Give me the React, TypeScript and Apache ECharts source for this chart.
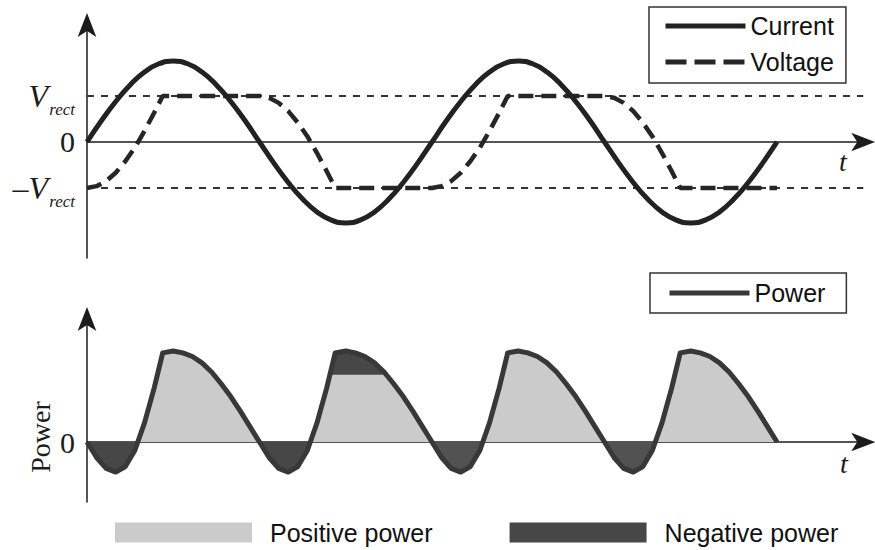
import React, { useEffect, useRef } from 'react';
import * as echarts from 'echarts';

// phase (degrees) vs. value, Vrect = 1
const currentData: [number, number][] = [
  [0, 0], [15, 0.46], [30, 0.88], [45, 1.24], [60, 1.52], [75, 1.7], [90, 1.76], [105, 1.7], [120, 1.52], [135, 1.24], [150, 0.88], [165, 0.46],
  [180, 0], [195, -0.46], [210, -0.88], [225, -1.24], [240, -1.52], [255, -1.7], [270, -1.76], [285, -1.7], [300, -1.52], [315, -1.24], [330, -0.88], [345, -0.46],
  [360, 0], [375, 0.46], [390, 0.88], [405, 1.24], [420, 1.52], [435, 1.7], [450, 1.76], [465, 1.7], [480, 1.52], [495, 1.24], [510, 0.88], [525, 0.46],
  [540, 0], [555, -0.46], [570, -0.88], [585, -1.24], [600, -1.52], [615, -1.7], [630, -1.76], [645, -1.7], [660, -1.52], [675, -1.24], [690, -0.88], [705, -0.46],
  [720, 0],
];

const voltageData: [number, number][] = [
  [0, -1], [10, -0.96], [20, -0.85], [30, -0.67], [40, -0.42], [50, -0.12], [60, 0.24], [70, 0.63], [79, 1], [180, 1],
  [190, 0.96], [200, 0.85], [210, 0.67], [220, 0.42], [230, 0.12], [240, -0.24], [250, -0.63], [259, -1], [360, -1],
  [370, -0.96], [380, -0.85], [390, -0.67], [400, -0.42], [410, -0.12], [420, 0.24], [430, 0.63], [439, 1], [540, 1],
  [550, 0.96], [560, 0.85], [570, 0.67], [580, 0.42], [590, 0.12], [600, -0.24], [610, -0.63], [619, -1], [720, -1],
];

const vrectLevels = [1, -1];

// power, peak = 1
const powerData: [number, number][] = [
  [0, 0], [10, -0.17], [20, -0.29], [30, -0.33], [40, -0.27], [50, -0.09], [53, 0], [60, 0.21], [70, 0.59], [79, 0.98],
  [90, 1], [100, 0.98], [110, 0.94], [120, 0.87], [130, 0.77], [140, 0.64], [150, 0.5], [160, 0.34], [170, 0.17], [180, 0],
  [190, -0.17], [200, -0.29], [210, -0.33], [220, -0.27], [230, -0.09], [233, 0], [240, 0.21], [250, 0.59], [259, 0.98],
  [270, 1], [280, 0.98], [290, 0.94], [300, 0.87], [310, 0.77], [320, 0.64], [330, 0.5], [340, 0.34], [350, 0.17], [360, 0],
  [370, -0.17], [380, -0.29], [390, -0.33], [400, -0.27], [410, -0.09], [413, 0], [420, 0.21], [430, 0.59], [439, 0.98],
  [450, 1], [460, 0.98], [470, 0.94], [480, 0.87], [490, 0.77], [500, 0.64], [510, 0.5], [520, 0.34], [530, 0.17], [540, 0],
  [550, -0.17], [560, -0.29], [570, -0.33], [580, -0.27], [590, -0.09], [593, 0], [600, 0.21], [610, 0.59], [619, 0.98],
  [630, 1], [640, 0.98], [650, 0.94], [660, 0.87], [670, 0.77], [680, 0.64], [690, 0.5], [700, 0.34], [710, 0.17], [720, 0],
];

const capLevel = 0.74;
const capData: [number, number][] = [
  [253.5, 0.74], [259, 0.98], [270, 1], [280, 0.98], [290, 0.94], [300, 0.87], [310, 0.77], [312.3, 0.74],
];

const tMax = 810;
const topTickValues = [-1, 0, 1];
const topTickLabels = ['\u2013V', '0', 'V'];
const subscriptLabel = 'rect';
const bottomTickValues = [0];
const bottomTickLabels = ['0'];
const topLegend = ['Current', 'Voltage'];
const powerLegend = ['Power'];
const fillLegend = ['Positive power', 'Negative power'];
const timeLabel = 't';
const powerAxisName = 'Power';

const serif = 'Liberation Serif';
const sans = 'Liberation Sans';
const ink = '#1c1c1c';

const topRange = { min: -2.522, max: 2.543 };
const topPxPerUnit = 46;
const subscriptDropPx = 14;
const subTickValues = vrectLevels.map((v) => v - subscriptDropPx / topPxPerUnit);

function labelFormatter(values: number[], labels: string[]) {
  return (val: number) => {
    const i = values.indexOf(val);
    if (i < 0) return '';
    const t = labels[i];
    return /\d/.test(t) ? `{z|${t}}` : `{v|${t}}`;
  };
}

const rich = {
  v: { fontFamily: serif, fontStyle: 'italic', fontSize: 32, padding: [0, 27, 0, 0], color: ink },
  z: { fontFamily: serif, fontSize: 30, color: ink },
};

const axisLineStyle = { color: ink, width: 1.5 };
const arrowLine = { show: true, symbol: ['none', 'arrow'], symbolSize: [14, 24], symbolOffset: [0, 12], lineStyle: axisLineStyle };

export default function App() {
  const ref = useRef<HTMLDivElement>(null);
  useEffect(() => {
    if (!ref.current) return;
    const chart = echarts.init(ref.current, undefined, { renderer: 'svg' });
    const lineBase = { type: 'line', symbol: 'none', showSymbol: false, silent: true };
    const option: any = {
      animation: false,
      backgroundColor: '#ffffff',
      grid: [
        { left: 87, top: 25, width: 776.25, height: 233 },
        { left: 87, top: 319, width: 776.25, height: 183 },
      ],
      xAxis: [0, 1].map((i) => ({
        type: 'value', gridIndex: i, min: 0, max: tMax,
        axisLine: { ...arrowLine, onZero: true },
        axisTick: { show: false }, axisLabel: { show: false }, splitLine: { show: false },
      })),
      yAxis: [
        {
          type: 'value', gridIndex: 0, ...topRange,
          axisLine: arrowLine,
          axisTick: { show: false }, splitLine: { show: false },
          axisLabel: { customValues: topTickValues, formatter: labelFormatter(topTickValues, topTickLabels), rich, margin: 12 },
        },
        {
          type: 'value', gridIndex: 1, min: -0.659, max: 1.352,
          axisLine: arrowLine,
          axisTick: { show: false }, splitLine: { show: false },
          axisLabel: { customValues: bottomTickValues, formatter: labelFormatter(bottomTickValues, bottomTickLabels), rich, margin: 12 },
        },
        {
          type: 'value', gridIndex: 0, ...topRange, position: 'left',
          axisLine: { show: false, onZero: false }, axisTick: { show: false }, splitLine: { show: false },
          axisLabel: {
            customValues: subTickValues,
            formatter: (val: number) => (subTickValues.indexOf(val) >= 0 ? subscriptLabel : ''),
            fontFamily: serif, fontStyle: 'italic', fontSize: 17, color: ink, margin: 12,
          },
        },
      ],
      legend: [
        {
          data: [
            { name: topLegend[0] },
            { name: topLegend[1], lineStyle: { type: [21, 8] } },
          ],
          orient: 'vertical', left: 649, top: 7, itemWidth: 80, itemHeight: 25, itemGap: 11,
          padding: [6.5, 12, 8.5, 14], borderColor: '#333', borderWidth: 1.5, selectedMode: false,
          textStyle: { fontFamily: sans, fontSize: 25, color: '#111' },
          itemStyle: { opacity: 0 }, lineStyle: { width: 5 },
        },
        {
          data: powerLegend,
          orient: 'vertical', left: 650, top: 273, itemWidth: 80, itemHeight: 25,
          padding: [7.5, 21, 7.5, 17], borderColor: '#333', borderWidth: 1.5, selectedMode: false,
          textStyle: { fontFamily: sans, fontSize: 25, color: '#111' },
          itemStyle: { opacity: 0 }, lineStyle: { width: 5 },
        },
        {
          data: fillLegend, icon: 'rect',
          orient: 'horizontal', left: 115, top: 520, itemWidth: 137, itemHeight: 20, itemGap: 77,
          padding: 0, selectedMode: false,
          textStyle: { fontFamily: sans, fontSize: 25, color: '#111', padding: [0, 0, 0, 13] },
          itemStyle: { borderWidth: 0 },
        },
      ],
      series: [
        ...vrectLevels.map((lv) => ({
          ...lineBase, xAxisIndex: 0, yAxisIndex: 0,
          data: [[0, lv], [tMax, lv]],
          lineStyle: { color: '#333', width: 2, type: [7, 7] },
        })),
        {
          ...lineBase, name: 'Voltage', xAxisIndex: 0, yAxisIndex: 0, data: voltageData, color: '#262626',
          lineStyle: { color: '#262626', width: 4.5, type: [15, 8] },
        },
        {
          ...lineBase, name: 'Current', xAxisIndex: 0, yAxisIndex: 0, data: currentData, smooth: true, color: '#222',
          lineStyle: { color: '#222', width: 5 },
        },
        {
          ...lineBase, name: 'Positive power', xAxisIndex: 1, yAxisIndex: 1, color: '#cbcbcb',
          data: powerData.map(([x, y]) => [x, Math.max(y, 0)]),
          lineStyle: { width: 0 }, areaStyle: { color: '#cbcbcb', opacity: 1 },
        },
        {
          ...lineBase, name: 'Negative power', xAxisIndex: 1, yAxisIndex: 1, color: '#474747',
          data: powerData.filter(([x]) => x <= 360).map(([x, y]) => [x, Math.min(y, 0)]),
          lineStyle: { width: 0 }, areaStyle: { color: '#474747', opacity: 1 },
        },
        {
          ...lineBase, name: 'Negative power', xAxisIndex: 1, yAxisIndex: 1, color: '#474747',
          data: powerData.filter(([x]) => x >= 360).map(([x, y]) => [x, Math.min(y, 0)]),
          lineStyle: { width: 0 }, areaStyle: { color: '#525252', opacity: 1 },
        },
        {
          ...lineBase, name: 'Negative power', xAxisIndex: 1, yAxisIndex: 1, color: '#474747',
          data: capData,
          lineStyle: { width: 0 }, areaStyle: { color: '#474747', opacity: 1, origin: capLevel },
        },
        {
          ...lineBase, name: 'Power', xAxisIndex: 1, yAxisIndex: 1, data: powerData, color: '#383838',
          lineStyle: { color: '#383838', width: 5, join: 'round' },
        },
      ],
      graphic: [
        { type: 'text', x: 843, y: 161, style: { text: timeLabel, fontFamily: serif, fontStyle: 'italic', fontSize: 28, fill: ink, align: 'center', verticalAlign: 'middle' } },
        { type: 'text', x: 844, y: 463, style: { text: timeLabel, fontFamily: serif, fontStyle: 'italic', fontSize: 28, fill: ink, align: 'center', verticalAlign: 'middle' } },
        { type: 'text', x: 40, y: 437, rotation: Math.PI / 2, style: { text: powerAxisName, fontFamily: serif, fontSize: 28, fill: ink, align: 'center', verticalAlign: 'middle' } },
      ],
    };
    chart.setOption(option);
    return () => chart.dispose();
  }, []);
  return <div ref={ref} style={{ position: 'fixed', left: 0, top: 0, width: 875, height: 550 }} />;
}
